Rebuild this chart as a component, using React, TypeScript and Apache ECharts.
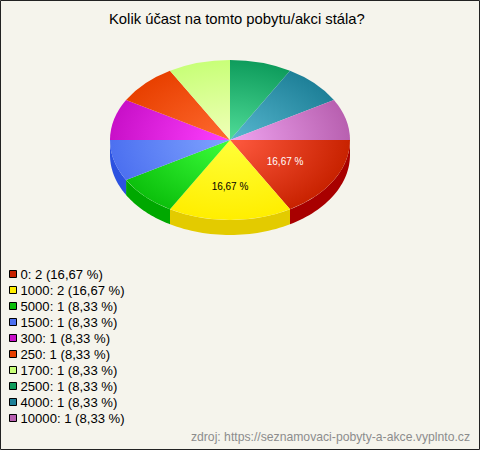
import React, { useEffect, useRef } from "react";
import * as echarts from "echarts";

const categories = ["0", "1000", "5000", "1500", "300", "250", "1700", "2500", "4000", "10000"];
const counts = [2, 2, 1, 1, 1, 1, 1, 1, 1, 1];
const percents = ["16,67", "16,67", "8,33", "8,33", "8,33", "8,33", "8,33", "8,33", "8,33", "8,33"];
const sliceLabels = ["16,67 %", "16,67 %", "", "", "", "", "", "", "", ""];

const baseColors = ["#C82200", "#FFEE00", "#0CC00C", "#4C70F0", "#C810C8", "#E84000", "#C8FF78", "#0E9C5C", "#1E8098", "#B860B0"];
const innerColors = ["#FF5A40", "#FFFF38", "#3CFF3C", "#80A4FF", "#FF40FF", "#FF6A30", "#F0FFB8", "#50DC98", "#58B8D0", "#F0A4F0"];
const wallColors = ["#A80000", "#E3CB00", "#00A800", "#2C52E0", "#8C008C", "#B03000", "#A0D060", "#007840", "#106078", "#904090"];
const labelColors = ["#FFFFFF", "#000000", "#000", "#000", "#000", "#000", "#000", "#000", "#000", "#000"];
const labelRadii = [0.53, 0.585, 0, 0, 0, 0, 0, 0, 0, 0];

const CX = 230, CY = 140, RX = 120, RY = 80, DEPTH = 15;
const total = counts.reduce((a, b) => a + b, 0);

function angleRange(index: number) {
  let sum = 0;
  for (let i = 0; i < index; i++) sum += counts[i];
  return [(sum / total) * Math.PI * 2, ((sum + counts[index]) / total) * Math.PI * 2];
}

function wallPoints(a0: number, a1: number) {
  const start = Math.max(a0, 0);
  const end = Math.min(a1, Math.PI);
  if (end <= start) return null;
  const top: number[][] = [];
  const bottom: number[][] = [];
  const steps = 32;
  for (let i = 0; i <= steps; i++) {
    const t = start + ((end - start) * i) / steps;
    const x = CX + RX * Math.cos(t);
    const y = CY + RY * Math.sin(t);
    top.push([x, y]);
    bottom.unshift([x, y + DEPTH]);
  }
  return top.concat(bottom);
}

function makeRenderItem(index: number) {
  return () => {
    const [a0, a1] = angleRange(index);
    const mid = (a0 + a1) / 2;
    const children: any[] = [];
    const wall = wallPoints(a0, a1);
    if (wall) {
      children.push({ type: "polygon", shape: { points: wall }, style: { fill: wallColors[index] } });
    }
    children.push({
      type: "group",
      x: CX,
      y: CY,
      scaleY: RY / RX,
      children: [
        {
          type: "sector",
          shape: { cx: 0, cy: 0, r0: 0, r: RX, startAngle: a0, endAngle: a1, clockwise: true },
          style: {
            fill: new echarts.graphic.RadialGradient(
              0, 0, RX,
              [
                { offset: 0, color: innerColors[index] },
                { offset: 1, color: baseColors[index] },
              ],
              true
            ),
          },
        },
      ],
    });
    if (sliceLabels[index]) {
      children.push({
        type: "text",
        x: CX + RX * labelRadii[index] * Math.cos(mid),
        y: CY + RY * labelRadii[index] * Math.sin(mid),
        style: {
          text: sliceLabels[index],
          fill: labelColors[index],
          font: '10px "Liberation Sans", Arial, sans-serif',
          align: "center",
          verticalAlign: "middle",
        },
      });
    }
    return { type: "group", children };
  };
}

export default function App() {
  const ref = useRef<HTMLDivElement>(null);
  useEffect(() => {
    const chart = echarts.init(ref.current!, undefined, { renderer: "svg" });
    const names = categories.map((c, i) => `${c}: ${counts[i]} (${percents[i]} %)`);
    chart.setOption({
      animation: false,
      backgroundColor: "#F5F4EC",
      title: [
        {
          text: "Kolik účast na tomto pobytu/akci stála?",
          left: 109,
          top: 11,
          padding: 0,
          textStyle: { fontFamily: '"Liberation Sans", Arial, sans-serif', fontSize: 14.8, fontWeight: "normal", color: "#000" },
        },
        {
          text: "zdroj: https://seznamovaci-pobyty-a-akce.vyplnto.cz",
          right: 10,
          top: 431,
          padding: 0,
          textStyle: { fontFamily: '"Liberation Sans", Arial, sans-serif', fontSize: 12.2, fontWeight: "normal", color: "#8C8C8C" },
        },
      ],
      legend: {
        orient: "vertical",
        left: 9,
        top: 267,
        padding: 0,
        itemWidth: 7,
        itemHeight: 7,
        itemGap: 2,
        icon: "rect",
        selectedMode: false,
        data: names,
        itemStyle: { borderColor: "#000", borderWidth: 1 },
        textStyle: { fontFamily: '"Liberation Sans", Arial, sans-serif', fontSize: 13.1, color: "#000", padding: [0, 0, 0, -1], lineHeight: 14 },
      },
      graphic: [
        {
          type: "rect",
          silent: true,
          z: 100,
          shape: { x: 0.5, y: 0.5, width: 479, height: 449 },
          style: { fill: "none", stroke: "#222", lineWidth: 1 },
        },
      ],
      series: categories.map((_, i) => ({
        type: "custom",
        name: names[i],
        coordinateSystem: "none",
        data: [[counts[i]]],
        itemStyle: { color: baseColors[i] },
        renderItem: makeRenderItem(i),
        silent: true,
      })),
    });
    return () => chart.dispose();
  }, []);
  return <div ref={ref} style={{ position: "absolute", left: 0, top: 0, width: 480, height: 450 }} />;
}
